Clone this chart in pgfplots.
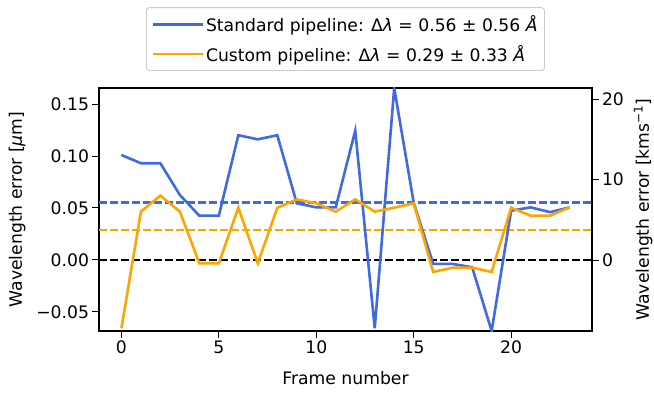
\documentclass[border=0pt]{standalone}
\usepackage{fontspec}
\setmainfont{DejaVu Sans}
\usepackage{pgfplots}
\pgfplotsset{compat=1.18}
\definecolor{stdblue}{RGB}{65,105,225}
\definecolor{custorange}{RGB}{255,165,0}
\pgfplotstableread{
x std cust
0 0.101 -0.0657
1 0.093 0.0465
2 0.093 0.0619
3 0.0625 0.0465
4 0.0426 -0.0032
5 0.0426 -0.0032
6 0.120 0.0503
7 0.116 -0.0032
8 0.120 0.0503
9 0.0545 0.0583
10 0.0506 0.0545
11 0.0506 0.0465
12 0.1244 0.0583
13 -0.0657 0.0465
14 0.1654 0.0503
15 0.0551 0.0545
16 -0.0038 -0.0115
17 -0.0038 -0.0074
18 -0.007 -0.0074
19 -0.0683 -0.0115
20 0.0474 0.0503
21 0.0506 0.0426
22 0.046 0.0426
23 0.0506 0.0506
}\datatable
\newcommand{\fs}{\fontsize{17.2bp}{20bp}\selectfont}
\begin{document}
\begin{tikzpicture}[font=\fs]
\begin{axis}[
  name=main,
  scale only axis,
  width=493bp, height=243bp,
  xmin=-1.15, xmax=24.15,
  ymin=-0.0683, ymax=0.1654,
  xtick={0,5,10,15,20},
  xticklabels={0,5,10,15,20},
  ytick={-0.05,0,0.05,0.10,0.15},
  yticklabels={−0.05,0.00,0.05,0.10,0.15},
  xtick pos=left, ytick pos=left,
  tick align=outside,
  major tick length=6.5bp,
  every tick/.style={black, line width=1bp},
  axis line style={line width=1.1bp},
  tick label style={font=\fs},
  xlabel={Frame number},
  ylabel={Wavelength error [{\itshape µ}m]},
  xlabel style={at={(axis description cs:0.5,-0.195)}, anchor=center, font=\fs},
  ylabel style={at={(axis description cs:-0.1663,0.5)}, anchor=center, rotate=0, font=\fs},
  legend style={at={(0.5,1.07)}, anchor=south, draw=black!20, rounded corners=3bp,
    font=\fs, row sep=8bp, inner xsep=5bp, inner ysep=6bp, line width=0.9bp},
  legend cell align=left,
  legend image code/.code={\draw[#1, line width=2.6bp] (0bp,0bp) -- (38bp,0bp); \path (0bp,0bp) -- (50bp,0bp);},
]
\addplot[custorange, line width=2.6bp, dash pattern=on 7.7bp off 3.3bp, forget plot] coordinates {(-1.15,0.0288) (24.15,0.0288)};
\addplot[stdblue, line width=2.6bp, dash pattern=on 7.7bp off 3.3bp, forget plot] coordinates {(-1.15,0.0555) (24.15,0.0555)};
\addplot[black, line width=2.6bp, dash pattern=on 7.7bp off 3.3bp, forget plot] coordinates {(-1.15,0) (24.15,0)};
\addplot[stdblue, line width=2.6bp] table[x=x, y=std] {\datatable};
\addlegendentry{Standard pipeline: Δ{\itshape λ} = 0.56 ± 0.56 {\itshape Å}}
\addplot[custorange, line width=2.6bp] table[x=x, y=cust] {\datatable};
\addlegendentry{Custom pipeline: Δ{\itshape λ} = 0.29 ± 0.33 {\itshape Å}}
\end{axis}
\begin{axis}[
  scale only axis,
  width=493bp, height=243bp,
  xmin=-1.15, xmax=24.15,
  ymin=-8.82, ymax=21.37,
  axis x line=none,
  axis y line*=right,
  ytick={0,10,20},
  yticklabels={0,10,20},
  ytick pos=right,
  tick align=outside,
  major tick length=6.5bp,
  every tick/.style={black, line width=1bp},
  axis line style={line width=1.1bp},
  tick label style={font=\fs},
  ylabel={Wavelength error [kms\textsuperscript{−1}]},
  ylabel style={at={(axis description cs:1.1035,0.5)}, anchor=center, rotate=0, font=\fs},
]
\end{axis}
\pgfresetboundingbox
\path[use as bounding box] (main.south west) ++(-99bp,-63bp) rectangle ++(654bp,394bp);
\end{tikzpicture}
\end{document}
